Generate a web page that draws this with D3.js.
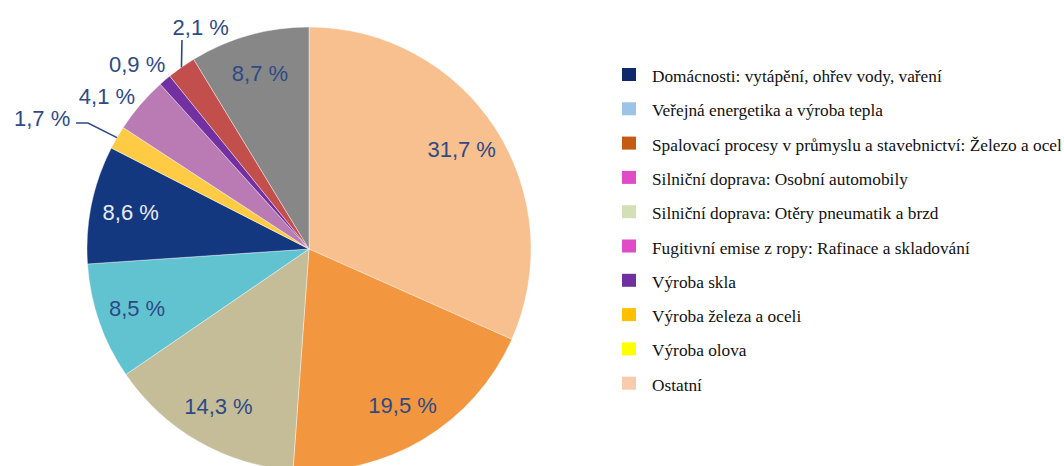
<!DOCTYPE html>
<html>
<head>
<meta charset="utf-8">
<script src="https://cdn.jsdelivr.net/npm/d3@7"></script>
<style>
  body { margin: 0; background: #fff; }
  svg { display: block; }
</style>
</head>
<body>
<div id="chart"></div>
<script>
// pie slices, clockwise from 12 o'clock
const sliceValues = [31.7, 19.5, 14.3, 8.5, 8.6, 1.7, 4.1, 0.9, 2.1, 8.7]
const sliceLabels = ["31,7 %", "19,5 %", "14,3 %", "8,5 %", "8,6 %", "1,7 %", "4,1 %", "0,9 %", "2,1 %", "8,7 %"]
const sliceColors = ["#F8BF8F", "#F2963F", "#C5BD98", "#62C3D0", "#14387F", "#FFCB44", "#BA7BB5", "#7230A0", "#C24F4C", "#878787"]

// legend (as in the original figure)
const legendNames = [
    "Domácnosti: vytápění, ohřev vody, vaření",
    "Veřejná energetika a výroba tepla",
    "Spalovací procesy v průmyslu a stavebnictví: Železo a ocel",
    "Silniční doprava: Osobní automobily",
    "Silniční doprava: Otěry pneumatik a brzd",
    "Fugitivní emise z ropy: Rafinace a skladování",
    "Výroba skla",
    "Výroba železa a oceli",
    "Výroba olova",
    "Ostatní"
]
const legendColors = ["#0E2A6B", "#9DC3E6", "#C55A11", "#E04CC8", "#D3E0B5", "#E04CC8", "#7030A0", "#FFC000", "#FFFF00", "#F8CBAD"]

const W = 1064, H = 466
const cx = 309, cy = 249, R = 222

const svg = d3.select("#chart").append("svg")
    .attr("width", W)
    .attr("height", H)

let pie = d3.pie().sort(null).value(d => d)
let arcs = pie(sliceValues)
let arc = d3.arc().innerRadius(0).outerRadius(R)

let g = svg.append("g").attr("transform", `translate(${cx},${cy})`)

g.selectAll("path.slice")
    .data(arcs)
    .enter()
    .append("path")
    .attr("class", "slice")
    .attr("d", arc)
    .attr("fill", (d, i) => sliceColors[i])
    .attr("stroke", "#ffffff")
    .attr("stroke-width", 0.4)

// polar helper, angle measured clockwise from top
function polar(a, r) { return [r * Math.sin(a), -r * Math.cos(a)] }
const deg = Math.PI / 180

// label placement: null = inside at 0.82R, otherwise [angle deg, radius]
const labelPlace = [null, null, null, null, null, [296, 297], [307, 253], [317, 252], [334, 247], null]
// leader lines for the two small slices
const leaders = { 5: [[88 - cx, 123 - cy], [76 - cx, 123 - cy]], 8: [[182 - cx, 40 - cy]] }

arcs.forEach((d, i) => {
    let mid = (d.startAngle + d.endAngle) / 2
    let p = labelPlace[i] ? polar(labelPlace[i][0] * deg, labelPlace[i][1]) : polar(mid, R * 0.82)
    if (leaders[i]) {
        let start = polar(mid, R)
        let pts = [start].concat(leaders[i])
        g.append("path")
            .attr("d", d3.line()(pts))
            .attr("fill", "none")
            .attr("stroke", "#2E4A86")
            .attr("stroke-width", 1.6)
    }
    g.append("text")
        .attr("x", p[0])
        .attr("y", p[1])
        .attr("text-anchor", "middle")
        .attr("dominant-baseline", "central")
        .attr("font-family", "Liberation Sans, Arial, sans-serif")
        .attr("font-size", 22)
        .attr("fill", i == 4 ? "#E8ECF4" : "#2E4A86")
        .text(sliceLabels[i])
})

// legend
let legend = svg.append("g").attr("transform", "translate(622,68)")
let rows = legend.selectAll("g.row")
    .data(legendNames)
    .enter()
    .append("g")
    .attr("class", "row")
    .attr("transform", (d, i) => `translate(0,${i * 34.3})`)

rows.append("rect")
    .attr("width", 14)
    .attr("height", 13)
    .attr("fill", (d, i) => legendColors[i])

rows.append("text")
    .attr("x", 30)
    .attr("y", 14)
    .attr("font-family", "Liberation Serif, Times New Roman, serif")
    .attr("font-size", 17.3)
    .attr("fill", "#111")
    .text(d => d)
</script>
</body>
</html>
